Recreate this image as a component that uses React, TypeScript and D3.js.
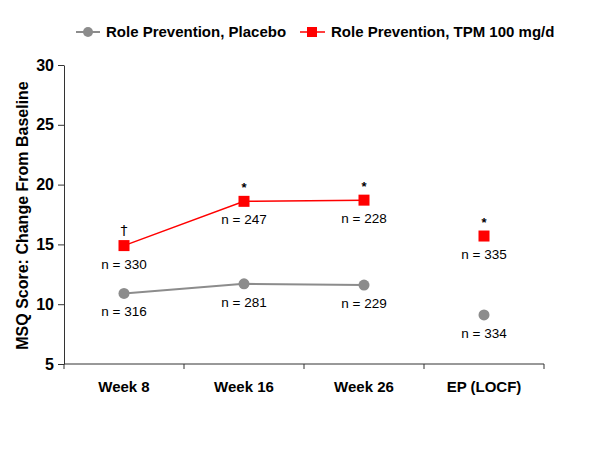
import React, { useEffect, useRef } from "react";
import * as d3 from "d3";

const categories = ["Week 8", "Week 16", "Week 26", "EP (LOCF)"];
const placebo = [10.9, 11.7, 11.6, 9.1];
const tpm = [14.9, 18.6, 18.7, 15.7];
const placeboN = ["n = 316", "n = 281", "n = 229", "n = 334"];
const tpmN = ["n = 330", "n = 247", "n = 228", "n = 335"];
const tpmMarks = ["†", "*", "*", "*"];
const yTicks = [5, 10, 15, 20, 25, 30];

const App = () => {
  const ref = useRef<SVGSVGElement>(null);

  useEffect(() => {
    const svg = d3.select(ref.current);
    svg.selectAll("*").remove();
    const font = "'Liberation Sans', Arial, sans-serif";
    const left = 64, right = 544, top = 65, bottom = 364;

    const x = d3.scaleBand().domain(categories).range([left, right]);
    const y = d3.scaleLinear().domain([5, 30]).range([bottom, top]);
    const cx = (c: string) => (x(c) as number) + x.bandwidth() / 2;

    // y axis
    svg.append("g")
      .attr("transform", `translate(${left},0)`)
      .call(d3.axisLeft(y).tickValues(yTicks).tickSize(6).tickSizeOuter(0))
      .call((g) => g.select(".domain").attr("stroke", "#333"))
      .call((g) => g.selectAll("line").attr("stroke", "#333"))
      .call((g) => g.selectAll("text")
        .attr("font-family", font).attr("font-size", 16).attr("font-weight", "bold")
        .attr("fill", "#000").attr("x", -10));

    // x axis
    const xTickPos = [left, ...categories.map((c) => (x(c) as number) + x.bandwidth())];
    svg.append("line").attr("x1", left).attr("x2", right).attr("y1", bottom).attr("y2", bottom).attr("stroke", "#333");
    svg.selectAll(".xt").data(xTickPos).enter().append("line")
      .attr("x1", (d) => d).attr("x2", (d) => d).attr("y1", bottom).attr("y2", bottom + 5).attr("stroke", "#333");
    svg.selectAll(".xl").data(categories).enter().append("text")
      .attr("x", (d) => cx(d)).attr("y", 392).attr("text-anchor", "middle")
      .attr("font-family", font).attr("font-size", 15).attr("font-weight", "bold").text((d) => d);

    // y axis title
    svg.append("text").attr("transform", `translate(28,${(top + bottom) / 2 + 1}) rotate(-90)`)
      .attr("text-anchor", "middle").attr("font-family", font).attr("font-size", 16).attr("font-weight", "bold")
      .text("MSQ Score: Change From Baseline");

    const lineCats = categories.slice(0, 3);
    const line = d3.line<number>().x((_, i) => cx(lineCats[i])).y((d) => y(d));

    svg.append("path").datum(placebo.slice(0, 3)).attr("d", line).attr("fill", "none").attr("stroke", "#8c8c8c").attr("stroke-width", 2);
    svg.append("path").datum(tpm.slice(0, 3)).attr("d", line).attr("fill", "none").attr("stroke", "#ff0000").attr("stroke-width", 1.5);

    svg.selectAll(".pc").data(placebo).enter().append("circle")
      .attr("cx", (_, i) => cx(categories[i])).attr("cy", (d) => y(d)).attr("r", 5.5).attr("fill", "#8c8c8c");
    svg.selectAll(".ts").data(tpm).enter().append("rect")
      .attr("x", (_, i) => cx(categories[i]) - 5.5).attr("y", (d) => y(d) - 5.5)
      .attr("width", 11).attr("height", 11).attr("fill", "#ff0000");

    svg.selectAll(".pn").data(placebo).enter().append("text")
      .attr("x", (_, i) => cx(categories[i])).attr("y", (d) => y(d) + 23).attr("text-anchor", "middle")
      .attr("font-family", font).attr("font-size", 13.5).text((_, i) => placeboN[i]);
    svg.selectAll(".tn").data(tpm).enter().append("text")
      .attr("x", (_, i) => cx(categories[i])).attr("y", (d) => y(d) + 23).attr("text-anchor", "middle")
      .attr("font-family", font).attr("font-size", 13.5).text((_, i) => tpmN[i]);
    svg.selectAll(".tm").data(tpm).enter().append("text")
      .attr("x", (_, i) => cx(categories[i])).attr("y", (d, i) => y(d) - (tpmMarks[i] === "†" ? 11 : 9))
      .attr("text-anchor", "middle").attr("fill", "#000")
      .attr("font-family", (_, i) => (tpmMarks[i] === "†" ? "'DejaVu Sans', sans-serif" : font))
      .attr("font-size", (_, i) => (tpmMarks[i] === "†" ? 14 : 13)).attr("font-weight", (_, i) => (tpmMarks[i] === "†" ? "normal" : "bold"))
      .text((_, i) => tpmMarks[i]);

    // legend
    const lg = svg.append("g").attr("font-family", font).attr("font-size", 15).attr("font-weight", "bold");
    lg.append("line").attr("x1", 76).attr("x2", 100).attr("y1", 32).attr("y2", 32).attr("stroke", "#8c8c8c").attr("stroke-width", 2);
    lg.append("circle").attr("cx", 88).attr("cy", 32).attr("r", 5).attr("fill", "#8c8c8c");
    lg.append("text").attr("x", 106).attr("y", 37).text("Role Prevention, Placebo");
    lg.append("line").attr("x1", 300).attr("x2", 325).attr("y1", 32).attr("y2", 32).attr("stroke", "#ff0000").attr("stroke-width", 1.5);
    lg.append("rect").attr("x", 307).attr("y", 27).attr("width", 10).attr("height", 10).attr("fill", "#ff0000");
    lg.append("text").attr("x", 331).attr("y", 37).text("Role Prevention, TPM 100 mg/d");
  }, []);

  return (
    <svg ref={ref} width={600} height={449} style={{ position: "absolute", left: 0, top: 0, background: "#fff" }} />
  );
};

export default App;
